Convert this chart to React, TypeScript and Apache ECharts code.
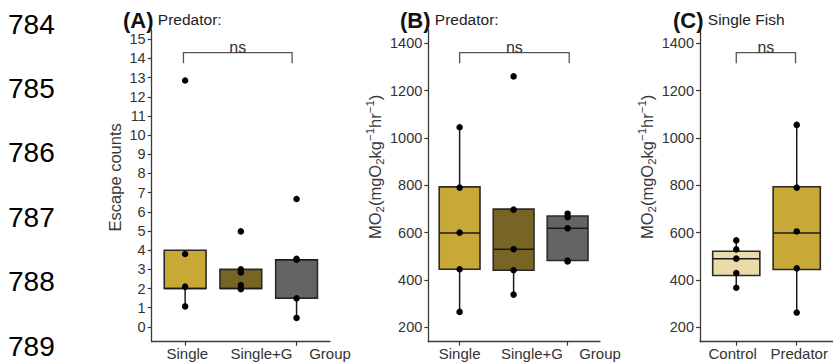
import React, { useEffect, useRef } from "react";
import * as echarts from "echarts";

// ---------- data ----------
const lineNumbers = ["784", "785", "786", "787", "788", "789"];

// Panel A: escape counts
const escapeCategories = ["Single", "Single+G", "Group"];
const escapeLabelPos = [1.04, 2.37, 3.6];
const escapeTickPos = [1, 3];
const escapeYTicks = [0, 1, 2, 3, 4, 5, 6, 7, 8, 9, 10, 11, 12, 13, 14, 15];
// [min, q1, median, q3, max]
const escapeBoxes = [
  [1.07, 2, 2, 4, 4],
  [2, 2, 2, 3, 3],
  [0.47, 1.5, 3.5, 3.5, 3.5],
];
const escapePoints = [
  [12.85, 3.8, 2.1, 1.07],
  [4.98, 3.0, 2.84, 2.18, 1.97],
  [6.67, 3.55, 3.5, 1.49, 0.47],
];
const escapeBracket = [0.97, 2.92, 14.3, 13.75];

// Panel B: MO2 predator
const mo2Categories = ["Single", "Single+G", "Group"];
const mo2LabelPos = [1.0, 2.34, 3.6];
const mo2TickPos = [1, 3];
const mo2YTicks = [200, 400, 600, 800, 1000, 1200, 1400];
const mo2Boxes = [
  [265, 445, 598, 793, 1045],
  [338, 441, 530, 699, 699],
  [482, 482, 618, 670, 670],
];
const mo2Points = [
  [1045, 790, 600, 445, 265],
  [1260, 697, 530, 441, 338],
  [680, 665, 618, 482, 478],
];
const mo2Bracket = [1.0, 3.03, 1360, 1315];

// Panel C: single fish
const fishCategories = ["Control", "Predator"];
const fishLabelPos = [0.94, 2.04];
const fishTickPos = [1, 2];
const fishBoxes = [
  [367, 419, 490, 521, 567],
  [262, 444, 598, 794, 1055],
];
const fishPoints = [
  [567, 529, 490, 429, 367],
  [1055, 790, 605, 449, 262],
];
const fishBracket = [1.0, 1.98, 1360, 1315];

const GOLD = "#C8A938";
const OLIVE = "#776526";
const GRAY = "#646464";
const CREAM = "#E9DCAA";
const FONT = "'Liberation Sans', Arial, Helvetica, sans-serif";
const AXIS_COLOR = "#3a3a3a";

function boxSeries(idx: number, boxes: number[][], colors: string[], widthFrac: number) {
  return {
    type: "custom",
    xAxisIndex: idx,
    yAxisIndex: idx,
    z: 2,
    data: boxes.map((b, i) => [i + 1, ...b]),
    renderItem: (params: any, api: any) => {
      const x = api.value(0);
      const mn = api.coord([x, api.value(1)]);
      const q1 = api.coord([x, api.value(2)]);
      const md = api.coord([x, api.value(3)]);
      const q3 = api.coord([x, api.value(4)]);
      const mx = api.coord([x, api.value(5)]);
      const half = api.size([widthFrac, 0])[0] / 2;
      const cx = q1[0];
      const lineStyle = { stroke: "#1a1a1a", lineWidth: 1.5 };
      return {
        type: "group",
        children: [
          { type: "line", shape: { x1: cx, y1: mn[1], x2: cx, y2: q1[1] }, style: lineStyle },
          { type: "line", shape: { x1: cx, y1: q3[1], x2: cx, y2: mx[1] }, style: lineStyle },
          {
            type: "rect",
            shape: { x: cx - half, y: q3[1], width: half * 2, height: q1[1] - q3[1] },
            style: { fill: colors[params.dataIndex], stroke: "#2a2a2a", lineWidth: 1.6 },
          },
          { type: "line", shape: { x1: cx - half, y1: md[1], x2: cx + half, y2: md[1] }, style: lineStyle },
        ],
      };
    },
  };
}

function pointSeries(idx: number, pts: number[][]) {
  return {
    type: "scatter",
    xAxisIndex: idx,
    yAxisIndex: idx,
    z: 5,
    symbol: "circle",
    symbolSize: 6.5,
    itemStyle: { color: "#000", opacity: 1 },
    data: pts.flatMap((vals, i) => vals.map((v) => [i + 1, v])),
  };
}

function bracketSeries(idx: number, br: number[]) {
  return {
    type: "custom",
    xAxisIndex: idx,
    yAxisIndex: idx,
    z: 4,
    data: [br],
    renderItem: (_p: any, api: any) => {
      const x1 = api.value(0), x2 = api.value(1), yt = api.value(2), yd = api.value(3);
      const a = api.coord([x1, yd]);
      const b = api.coord([x1, yt]);
      const c = api.coord([x2, yt]);
      const d = api.coord([x2, yd]);
      return {
        type: "group",
        children: [
          {
            type: "polyline",
            shape: { points: [a, b, c, d] },
            style: { stroke: "#555", lineWidth: 1.3, fill: "none" },
          },
          {
            type: "text",
            x: (b[0] + c[0]) / 2,
            y: b[1] + 3,
            style: {
              text: "ns",
              fontSize: 16,
              fontFamily: FONT,
              fill: "#333",
              align: "center",
              verticalAlign: "bottom",
            },
          },
        ],
      };
    },
  };
}

function xAxis(idx: number, min: number, max: number, labelPos: number[], labels: string[], ticks: number[]) {
  return {
    type: "value",
    gridIndex: idx,
    min,
    max,
    splitLine: { show: false },
    axisLine: { show: true, onZero: false, lineStyle: { color: AXIS_COLOR, width: 1.3 } },
    axisTick: { show: true, length: 4, customValues: ticks, lineStyle: { color: AXIS_COLOR, width: 1.2 } },
    axisLabel: {
      customValues: labelPos,
      formatter: (v: number) => {
        const k = labelPos.findIndex((p) => Math.abs(p - v) < 1e-6);
        return k >= 0 ? labels[k] : "";
      },
      fontSize: 15,
      fontFamily: FONT,
      color: "#333",
      margin: 4,
    },
  };
}

const nameRich = {
  n: { fontSize: 16.5, fontFamily: FONT, color: "#3a3a3a", lineHeight: 22 },
  s: { fontSize: 11.5, fontFamily: FONT, color: "#3a3a3a", lineHeight: 12, verticalAlign: "bottom" },
  p: { fontSize: 11.5, fontFamily: FONT, color: "#3a3a3a", lineHeight: 12, verticalAlign: "top" },
};

function yAxis(
  idx: number,
  min: number,
  max: number,
  ticks: number[],
  name: string,
  nameGap: number,
  shiftUp: number
) {
  return {
    type: "value",
    gridIndex: idx,
    min,
    max,
    name,
    nameLocation: "middle",
    nameRotate: 90,
    nameGap,
    nameTextStyle: {
      fontSize: 16.5,
      fontFamily: FONT,
      color: "#3a3a3a",
      padding: [0, 0, 0, shiftUp * 2],
      rich: nameRich,
    },
    splitLine: { show: false },
    axisLine: { show: true, onZero: false, lineStyle: { color: AXIS_COLOR, width: 1.3 } },
    axisTick: { show: true, length: 4, customValues: ticks, lineStyle: { color: AXIS_COLOR, width: 1.2 } },
    axisLabel: {
      customValues: ticks,
      formatter: (v: number) => String(v),
      fontSize: 14.5,
      fontFamily: FONT,
      color: "#333",
      margin: 6,
    },
  };
}

function panelTitle(left: number, tag: string, sub: string) {
  return {
    text: `{b|${tag}}{n| ${sub}}`,
    left,
    top: 4,
    textStyle: {
      fontWeight: "normal",
      rich: {
        b: { fontSize: 22, fontWeight: "bold", fontFamily: FONT, color: "#111" },
        n: { fontSize: 15.5, fontWeight: "normal", fontFamily: FONT, color: "#222", padding: [0, 0, 1, 0] },
      },
    },
  };
}

export default function App() {
  const ref = useRef<HTMLDivElement>(null);
  useEffect(() => {
    if (!ref.current) return;
    const chart = echarts.init(ref.current, null, { renderer: "svg" });
    const MO2 = "{n|MO}{s|2}{n|(mgO}{s|2}{n|kg}{p|\u22121}{n|hr}{p|\u22121}{n|)}";
    chart.setOption({
      animation: false,
      backgroundColor: "#fff",
      title: [
        panelTitle(118, "(A)", "Predator:"),
        panelTitle(395, "(B)", "Predator:"),
        panelTitle(668, "(C)", "Single Fish"),
      ],
      graphic: lineNumbers.map((t, i) => ({
        type: "text",
        left: 8,
        top: 10 + i * 64.4,
        style: { text: t, fontSize: 28, fontFamily: FONT, fill: "#000" },
      })),
      grid: [
        { left: 151.7, top: 30, width: 178.3, height: 311.7 },
        { left: 428.3, top: 30, width: 171.7, height: 311.7 },
        { left: 700, top: 30, width: 133, height: 311.7 },
      ],
      xAxis: [
        xAxis(0, 0.4, 3.6, escapeLabelPos, escapeCategories, escapeTickPos),
        xAxis(1, 0.42, 3.6, mo2LabelPos, mo2Categories, mo2TickPos),
        xAxis(2, 0.4, 2.6, fishLabelPos, fishCategories, fishTickPos),
      ],
      yAxis: [
        yAxis(0, -0.77, 15.48, escapeYTicks, "{n|Escape counts}", 26, 8.5),
        yAxis(1, 139, 1456, mo2YTicks, MO2, 35, 19),
        yAxis(2, 139, 1456, mo2YTicks, MO2, 36, 19),
      ],
      series: [
        boxSeries(0, escapeBoxes, [GOLD, OLIVE, GRAY], 0.75),
        pointSeries(0, escapePoints),
        bracketSeries(0, escapeBracket),
        boxSeries(1, mo2Boxes, [GOLD, OLIVE, GRAY], 0.755),
        pointSeries(1, mo2Points),
        bracketSeries(1, mo2Bracket),
        boxSeries(2, fishBoxes, [CREAM, GOLD], 0.78),
        pointSeries(2, fishPoints),
        bracketSeries(2, fishBracket),
      ],
    });
    return () => chart.dispose();
  }, []);
  return (
    <div
      ref={ref}
      style={{ position: "fixed", left: 0, top: 0, width: 833, height: 362, background: "#fff" }}
    />
  );
}
